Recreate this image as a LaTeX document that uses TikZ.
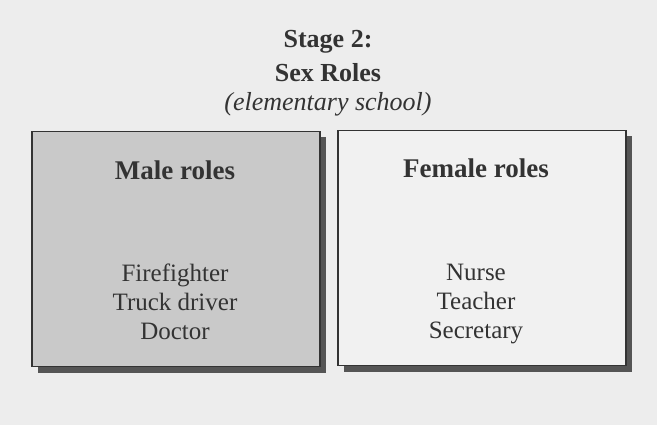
\documentclass[tikz,border=0pt]{standalone}
\usepackage{fontspec}
\setmainfont{Liberation Serif}
\definecolor{paper}{HTML}{EDEDED}
\definecolor{ink}{HTML}{333333}
\definecolor{malefill}{HTML}{C9C9C9}
\definecolor{femalefill}{HTML}{F1F1F1}
\definecolor{shadowc}{HTML}{555555}
\tikzset{
  rolebox/.style={draw=ink, line width=1.2pt, minimum width=288pt, minimum height=235pt, inner sep=0pt},
  shadowbox/.style={fill=shadowc, minimum width=288pt, minimum height=235pt, inner sep=0pt},
  heading/.style={font=\fontsize{27}{30}\selectfont\bfseries, text=ink},
  items/.style={font=\fontsize{25}{29}\selectfont, text=ink, align=center},
  titletext/.style={font=\fontsize{26}{34}\selectfont\bfseries, text=ink, align=center},
  subtitle/.style={font=\fontsize{26}{30}\selectfont\itshape, text=ink}
}
\begin{document}
\begin{tikzpicture}[x=1pt,y=-1pt]
\useasboundingbox[fill=paper] (0,0) rectangle (657,425);
% title
\node[titletext] (title) at (328,56) {Stage 2:\\Sex Roles};
\node[subtitle] (sub) at (328,104) {(elementary school)};
% left box
\node[shadowbox] (lshadow) at (182,255) {};
\node[rolebox, fill=malefill] (male) at (176,249) {};
\node[heading] (maleh) at (175,170) {Male roles};
\node[items] (malei) at (175,302) {Firefighter\\Truck driver\\Doctor};
% right box
\node[shadowbox] (rshadow) at (488,254) {};
\node[rolebox, fill=femalefill] (female) at (482,248) {};
\node[heading] (femaleh) at (476,168) {Female roles};
\node[items] (femalei) at (476,304) {Nurse\\Teacher\\Secretary};
\end{tikzpicture}
\end{document}
